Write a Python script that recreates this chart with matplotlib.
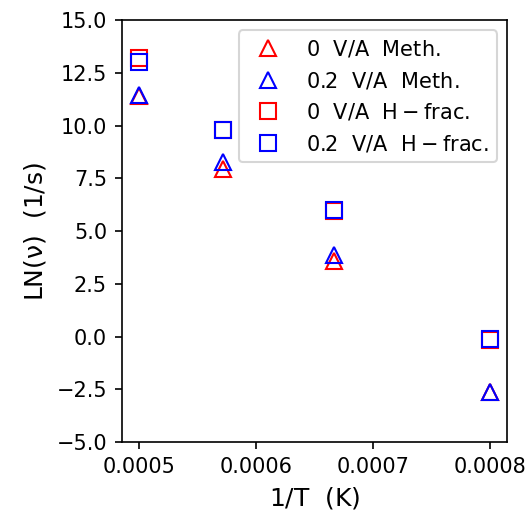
import matplotlib
matplotlib.use("Agg")
import matplotlib.pyplot as plt

# 1/T para cada temperatura
inv_T = [1/2000, 1/1750, 1/1500, 1/1250]

# LN(nu)
meth_0 = [11.4, 7.95, 3.57, -2.65]
meth_02 = [11.45, 8.25, 3.86, -2.62]
hfrac_0 = [13.2, 9.78, 5.95, -0.15]
hfrac_02 = [13.02, 9.78, 6.0, -0.12]

fig, ax = plt.subplots(figsize=(3.52, 3.427), dpi=150)

kw = dict(linestyle="none", markersize=8, markerfacecolor="none", markeredgewidth=1.0)
ax.plot(inv_T, meth_0, marker="^", markeredgecolor="red", label=r"$\rm 0\ \ V/A\ \ Meth.$", **kw)
ax.plot(inv_T, meth_02, marker="^", markeredgecolor="blue", label=r"$\rm 0.2\ \ V/A\ \ Meth.$", **kw)
ax.plot(inv_T, hfrac_0, marker="s", markeredgecolor="red", label=r"$\rm 0\ \ V/A\ \ H-frac.$", **kw)
ax.plot(inv_T, hfrac_02, marker="s", markeredgecolor="blue", label=r"$\rm 0.2\ \ V/A\ \ H-frac.$", **kw)

ax.set_ylim(-5, 15)
ax.set_xticks([0.0005, 0.0006, 0.0007, 0.0008])
ax.set_xticklabels(["0.0005", "0.0006", "0.0007", "0.0008"])
ax.set_xlabel(r"$\rm 1/T\ \ (K)$", fontsize=12)
ax.set_ylabel(r"$\rm LN(\nu)\ \ (1/s)$", fontsize=12)
ax.legend(loc="upper right")

fig.subplots_adjust(left=0.2305, right=0.961, top=0.961, bottom=0.140)
fig.savefig("out.png")
